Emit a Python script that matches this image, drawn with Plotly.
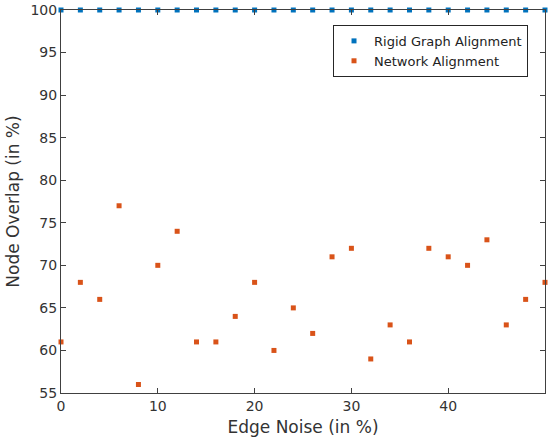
import plotly.graph_objects as go

edge_noise = [0, 2, 4, 6, 8, 10, 12, 14, 16, 18, 20, 22, 24, 26, 28, 30, 32, 34, 36, 38, 40, 42, 44, 46, 48, 50]
rigid = [100] * 26
network = [61, 68, 66, 77, 56, 70, 74, 61, 61, 64, 68, 60, 65, 62, 71, 72, 59, 63, 61, 72, 71, 70, 73, 63, 66, 68]
x_ticks = [0, 10, 20, 30, 40, 50]
y_ticks = [55, 60, 65, 70, 75, 80, 85, 90, 95, 100]

FONT = "DejaVu Sans"
AX = "#404040"

fig = go.Figure()
fig.add_trace(go.Scatter(x=edge_noise, y=rigid, mode="markers", name="Rigid Graph Alignment",
                         marker=dict(symbol="square", size=5, color="#0072BD"), cliponaxis=False))
fig.add_trace(go.Scatter(x=edge_noise, y=network, mode="markers", name="Network Alignment",
                         marker=dict(symbol="square", size=5, color="#D95319"), cliponaxis=False))

axis_common = dict(showgrid=False, zeroline=False, showline=True, linecolor=AX, linewidth=1,
                   mirror="ticks", ticks="inside", ticklen=5, tickcolor=AX, automargin=False,
                   tickfont=dict(family=FONT, size=14, color="#333333"))

fig.update_layout(
    width=553, height=438,
    margin=dict(l=61, r=8, t=10, b=45),
    paper_bgcolor="white", plot_bgcolor="white",
    showlegend=True,
    legend=dict(x=0.562, y=0.961, xanchor="left", yanchor="top",
                bordercolor="#262626", borderwidth=1, bgcolor="white",
                font=dict(family=FONT, size=13, color="#222222"),
                itemwidth=30, tracegroupgap=0),
    xaxis=dict(range=[0, 50], tickvals=x_ticks,
               title=dict(text="Edge Noise (in %)", font=dict(family=FONT, size=17, color="#333333"), standoff=8),
               **axis_common),
    yaxis=dict(range=[55, 100], tickvals=y_ticks,
               title=dict(text="Node Overlap (in %)", font=dict(family=FONT, size=17, color="#333333"), standoff=6),
               **axis_common),
)

fig.write_html("out.html", config={"displayModeBar": False},
               post_script="document.body.style.margin='0';document.body.style.overflow='hidden';")
